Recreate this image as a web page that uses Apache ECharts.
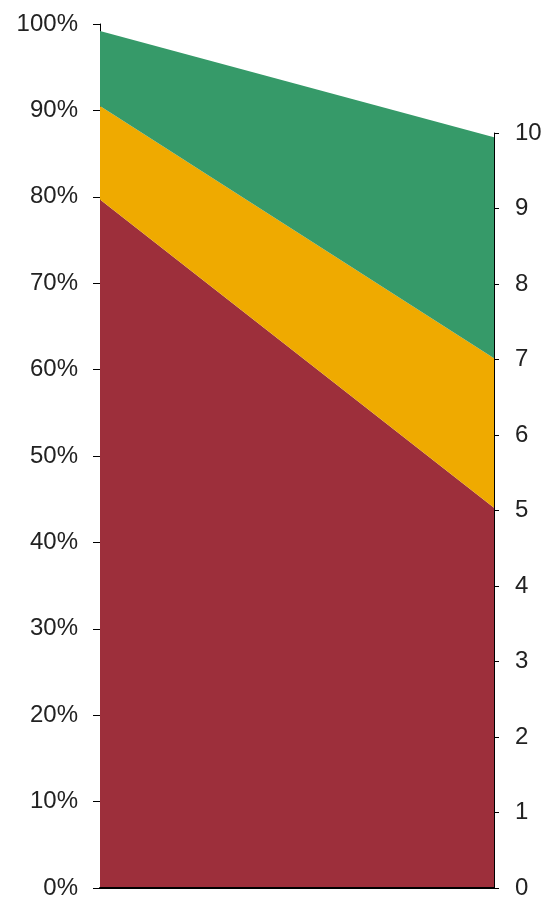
<!DOCTYPE html>
<html><head><meta charset="utf-8">
<script src="https://cdn.jsdelivr.net/npm/echarts@6/dist/echarts.min.js"></script>
<style>html,body{margin:0;padding:0;background:#fff}#c{width:548px;height:902px}</style>
</head><body><div id="c"></div>
<script>
var categories = ['A', 'B'];
var redValues = [79.7, 44.0];
var yellowValues = [10.8, 17.3];
var greenValues = [8.7, 25.6];
var leftTicks = [0, 10, 20, 30, 40, 50, 60, 70, 80, 90, 100];
var rightTicks = [0, 1, 2, 3, 4, 5, 6, 7, 8, 9, 10];

var chart = echarts.init(document.getElementById('c'));
var font = {fontFamily: 'Liberation Sans, Arial, sans-serif', fontSize: 24, color: '#222'};
function areaSeries(name, data, color) {
  return {name: name, type: 'line', stack: 's', data: data, symbol: 'none',
    lineStyle: {width: 0}, areaStyle: {color: color, opacity: 1}, itemStyle: {color: color},
    xAxisIndex: 0, yAxisIndex: 0};
}
chart.setOption({
  animation: false,
  grid: [
    {left: 100, right: 54, top: 24, bottom: 14},
    {left: 100, right: 54, top: 133, bottom: 14}
  ],
  xAxis: [
    {type: 'category', gridIndex: 0, data: categories, boundaryGap: false,
      axisLine: {show: true, lineStyle: {color: '#000', width: 2}}, axisTick: {show: false}, axisLabel: {show: false}, z: 10},
    {type: 'category', gridIndex: 1, data: categories, boundaryGap: false, show: false}
  ],
  yAxis: [
    {type: 'value', gridIndex: 0, position: 'left', min: leftTicks[0], max: leftTicks[leftTicks.length - 1], interval: 10,
      splitLine: {show: false},
      axisLine: {show: true, lineStyle: {color: '#000', width: 1}},
      axisTick: {show: true, length: 7, lineStyle: {color: '#000'}},
      axisLabel: Object.assign({margin: 22, formatter: '{value}%'}, font)},
    {type: 'value', gridIndex: 1, position: 'right', min: rightTicks[0], max: rightTicks[rightTicks.length - 1], interval: 1,
      splitLine: {show: false},
      axisLine: {show: true, lineStyle: {color: '#000', width: 1}},
      axisTick: {show: true, length: 5, lineStyle: {color: '#000'}},
      axisLabel: Object.assign({margin: 21}, font)}
  ],
  series: [
    areaSeries('Red', redValues, '#9D2F3B'),
    areaSeries('Yellow', yellowValues, '#EFAA00'),
    areaSeries('Green', greenValues, '#369A69')
  ]
});
</script></body></html>
